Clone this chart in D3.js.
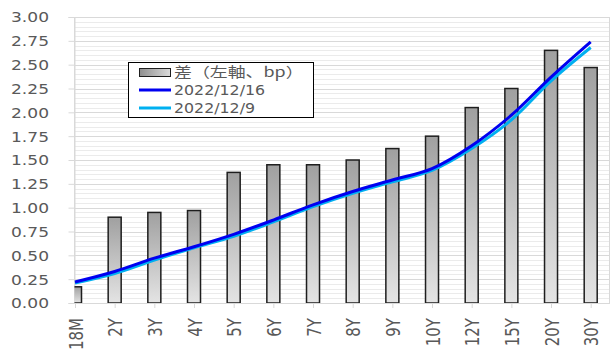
<!DOCTYPE html>
<html>
<head>
<meta charset="utf-8">
<script src="https://cdn.jsdelivr.net/npm/d3@7"></script>
<style>
  html, body { margin: 0; padding: 0; background: #fff; }
  svg { display: block; }
  text { font-family: "DejaVu Sans", Verdana, sans-serif; fill: #595959; }
</style>
</head>
<body>
<svg id="chart" width="611" height="352"></svg>
<script>
// Tenors on the category axis
const tenors = ["18M", "2Y", "3Y", "4Y", "5Y", "6Y", "7Y", "8Y", "9Y", "10Y", "12Y", "15Y", "20Y", "30Y"];
// Spread between the two curves (bars)
const spread = [0.17, 0.90, 0.95, 0.97, 1.37, 1.45, 1.45, 1.50, 1.62, 1.75, 2.05, 2.25, 2.65, 2.47];
// Yield curves
const yield1216 = [0.22, 0.33, 0.47, 0.59, 0.72, 0.87, 1.03, 1.17, 1.29, 1.41, 1.65, 1.97, 2.37, 2.74];
const yield129  = [0.21, 0.31, 0.45, 0.58, 0.70, 0.85, 1.01, 1.15, 1.27, 1.39, 1.62, 1.92, 2.33, 2.68];
// Axis ticks
const yTicks = [0, 0.25, 0.5, 0.75, 1.0, 1.25, 1.5, 1.75, 2.0, 2.25, 2.5, 2.75, 3.0];
const legendLabels = ["差（左軸、bp）", "2022/12/16", "2022/12/9"];

const svg = d3.select("#chart");
const plot = { left: 74.5, right: 610, top: 17, bottom: 303 };

const x = d3.scalePoint().domain(tenors).range([75, 590.7]);
const y = d3.scaleLinear().domain([0, 3]).range([plot.bottom, plot.top]);
const barW = 13;

const defs = svg.append("defs");
const grad = defs.append("linearGradient").attr("id", "barGrad")
  .attr("x1", 0).attr("y1", 0).attr("x2", 0).attr("y2", 1);
grad.append("stop").attr("offset", "0%").attr("stop-color", "#a0a0a0");
grad.append("stop").attr("offset", "100%").attr("stop-color", "#e4e4e4");
const lgGrad = defs.append("linearGradient").attr("id", "legGrad")
  .attr("x1", 0).attr("y1", 0).attr("x2", 1).attr("y2", 0);
lgGrad.append("stop").attr("offset", "0%").attr("stop-color", "#8f8f8f");
lgGrad.append("stop").attr("offset", "100%").attr("stop-color", "#dcdcdc");
defs.append("clipPath").attr("id", "plotClip")
  .append("rect").attr("x", plot.left).attr("y", plot.top - 5)
  .attr("width", plot.right - plot.left).attr("height", plot.bottom - plot.top + 5);

// Minor gridlines every 0.05
const minor = d3.range(0.05, 3.0, 0.05).filter(v => Math.abs(v / 0.25 - Math.round(v / 0.25)) > 1e-6);
svg.append("g").selectAll("line").data(minor).join("line")
  .attr("x1", plot.left).attr("x2", plot.right)
  .attr("y1", d => Math.round(y(d)) + 0.5).attr("y2", d => Math.round(y(d)) + 0.5)
  .attr("stroke", "#ebebeb").attr("stroke-width", 1);

// Major gridlines
svg.append("g").selectAll("line").data(yTicks).join("line")
  .attr("x1", plot.left).attr("x2", plot.right)
  .attr("y1", d => Math.round(y(d)) + 0.5).attr("y2", d => Math.round(y(d)) + 0.5)
  .attr("stroke", "#d9d9d9").attr("stroke-width", 1);

// Plot area frame
svg.append("rect").attr("x", plot.left).attr("y", plot.top + 0.5)
  .attr("width", plot.right - plot.left - 0.5).attr("height", plot.bottom - plot.top)
  .attr("fill", "none").attr("stroke", "#d9d9d9");

// Y axis
const yAxis = svg.append("g").attr("transform", `translate(${plot.left},0)`)
  .call(d3.axisLeft(y).tickValues(yTicks).tickFormat(d3.format(".2f")).tickSize(6).tickPadding(20));
yAxis.select(".domain").attr("stroke", "#d9d9d9");
yAxis.selectAll(".tick line").attr("stroke", "#d9d9d9");
yAxis.selectAll(".tick text")
  .attr("font-size", 14).attr("fill", "#595959").attr("dy", "0.35em")
  .attr("x", 0)
  .attr("transform", "translate(-25.5,0) scale(1.22,1)");

// X axis
const xAxis = svg.append("g").attr("transform", `translate(0,${plot.bottom})`)
  .call(d3.axisBottom(x).tickSize(5).tickSizeOuter(0));
xAxis.select(".domain").attr("stroke", "#d9d9d9");
xAxis.selectAll(".tick line").attr("stroke", "#d9d9d9");
xAxis.selectAll(".tick text")
  .attr("font-size", 15).attr("fill", "#595959")
  .attr("x", 0).attr("y", 0).attr("dy", "0.35em")
  .attr("text-anchor", "end")
  .attr("transform", "translate(0,15) scale(1.35,1) rotate(-90)");

// Spread bars
svg.append("g").attr("clip-path", "url(#plotClip)")
  .selectAll("rect").data(spread).join("rect")
  .attr("x", (d, i) => x(tenors[i]) - barW / 2)
  .attr("y", d => y(d))
  .attr("width", barW)
  .attr("height", d => y(0) - y(d))
  .attr("fill", "url(#barGrad)")
  .attr("stroke", "#1e1e1e").attr("stroke-width", 1.5);

// Yield curves
const line = d3.line()
  .x((d, i) => x(tenors[i]))
  .y(d => y(d))
  .curve(d3.curveCatmullRom.alpha(0.5));
svg.append("path").datum(yield129).attr("d", line)
  .attr("fill", "none").attr("stroke", "#00b0f0").attr("stroke-width", 3);
svg.append("path").datum(yield1216).attr("d", line)
  .attr("fill", "none").attr("stroke", "#0000f0").attr("stroke-width", 3);

// Legend
const leg = svg.append("g");
leg.append("rect").attr("x", 128.5).attr("y", 62.5).attr("width", 185).attr("height", 55)
  .attr("fill", "#fff").attr("stroke", "#000").attr("stroke-width", 1);
leg.append("rect").attr("x", 139.5).attr("y", 68.5).attr("width", 31).attr("height", 8)
  .attr("fill", "url(#legGrad)").attr("stroke", "#1e1e1e").attr("stroke-width", 1);
leg.append("line").attr("x1", 139).attr("x2", 171).attr("y1", 90).attr("y2", 90)
  .attr("stroke", "#0000f0").attr("stroke-width", 3);
leg.append("line").attr("x1", 139).attr("x2", 171).attr("y1", 108).attr("y2", 108)
  .attr("stroke", "#00b0f0").attr("stroke-width", 3);
const legY = [72, 90, 108];
leg.selectAll("text").data(legendLabels).join("text")
  .attr("x", 0).attr("y", 0).attr("dy", "0.35em")
  .attr("font-size", 14)
  .style("font-family", (d, i) => i === 0 ? "'Noto Sans CJK JP', 'DejaVu Sans', sans-serif" : null)
  .attr("transform", (d, i) => `translate(174,${legY[i]}) scale(${i === 0 ? 1.28 : 1.13},1)`)
  .text(d => d);
</script>
</body>
</html>
